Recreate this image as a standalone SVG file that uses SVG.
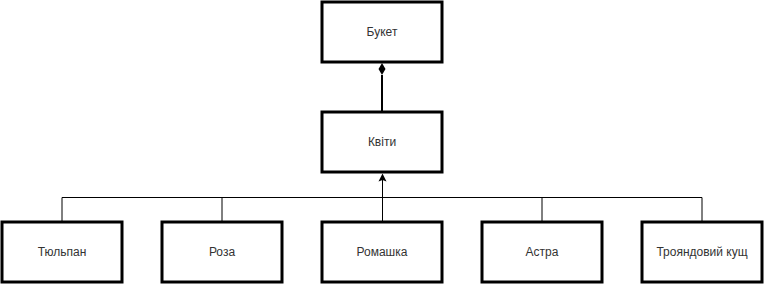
<svg xmlns="http://www.w3.org/2000/svg" width="765" height="285" viewBox="0 0 765 285">
  <style>
    .box { fill: #ffffff; stroke: #000000; stroke-width: 3; }
    .label { font-family: "Liberation Sans", Arial, sans-serif; font-size: 12px; fill: #333333; text-anchor: middle; dominant-baseline: central; }
    .wire { fill: none; stroke: #000000; stroke-width: 1; }
    .comp { fill: none; stroke: #000000; stroke-width: 2; }
    .head { fill: #000000; stroke: none; }
  </style>

  <g id="connectors">
    <!-- composition: Квіти -> Букет, filled diamond at the whole -->
    <line class="comp" x1="382" y1="112" x2="382" y2="75"/>
    <path class="head" d="M382,63 L385.5,69 L382,75 L378.5,69 Z"/>
    <!-- generalisation tree: subclasses -> Квіти -->
    <path class="wire" d="M62,222 V197.5 H702 V222 M222,197.5 V222 M542,197.5 V222 M382.5,222 V180"/>
    <path class="head" d="M382.5,173.5 L386.5,181.5 L382.5,180 L378.5,181.5 Z"/>
  </g>

  <g id="buket">
    <rect class="box" x="322" y="2" width="120" height="60"/>
    <text class="label" x="382" y="32">Букет</text>
  </g>
  <g id="kvity">
    <rect class="box" x="322" y="112" width="120" height="60"/>
    <text class="label" x="382" y="142">Квіти</text>
  </g>
  <g id="tiulpan">
    <rect class="box" x="2" y="222" width="120" height="60"/>
    <text class="label" x="62" y="252">Тюльпан</text>
  </g>
  <g id="roza">
    <rect class="box" x="162" y="222" width="120" height="60"/>
    <text class="label" x="222" y="252">Роза</text>
  </g>
  <g id="romashka">
    <rect class="box" x="322" y="222" width="120" height="60"/>
    <text class="label" x="382" y="252">Ромашка</text>
  </g>
  <g id="astra">
    <rect class="box" x="482" y="222" width="120" height="60"/>
    <text class="label" x="542" y="252">Астра</text>
  </g>
  <g id="troiandovyi-kushch">
    <rect class="box" x="642" y="222" width="120" height="60"/>
    <text class="label" x="702" y="252">Трояндовий кущ</text>
  </g>
</svg>
